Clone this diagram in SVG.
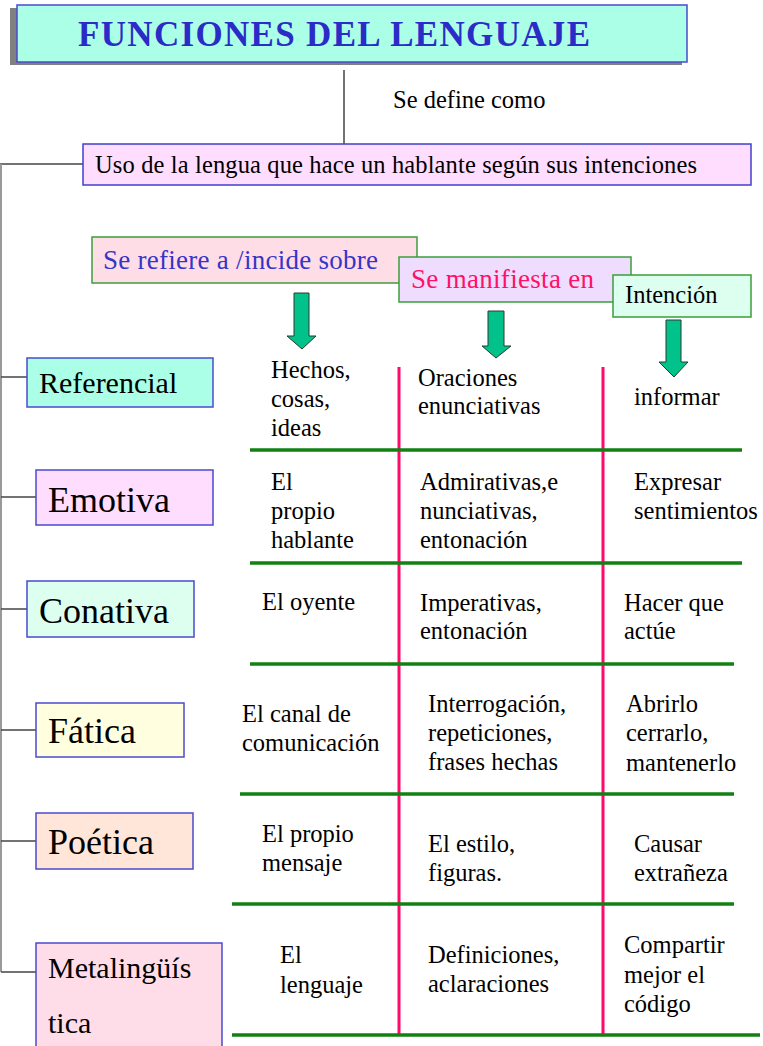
<svg xmlns="http://www.w3.org/2000/svg" width="763" height="1046" viewBox="0 0 763 1046">
<style>
.t{font-family:"Liberation Serif","Times New Roman",serif;fill:#000}
.cell{font-size:24.5px}
.lbl{stroke:#4a4ad0;stroke-width:1.5}
.hdr{stroke:#3d9d3d;stroke-width:1.5}
.conn{stroke:#444;stroke-width:1.5;fill:none}
.green{stroke:#128012;stroke-width:3.5}
.pink{stroke:#ff0a6a;stroke-width:3}
.arrow{fill:#00c28a;stroke:#2a3a2a;stroke-width:1}
</style>
<rect width="763" height="1046" fill="#fff"/>
<g id="connectors">
<line class="conn" x1="344" y1="70" x2="344" y2="144"/>
<line class="conn" x1="0" y1="164" x2="83" y2="164"/>
<line x1="1" y1="164" x2="1" y2="972" stroke="#999" stroke-width="2"/>
<line class="conn" x1="1" y1="377" x2="27" y2="377"/>
<line class="conn" x1="1" y1="497" x2="36" y2="497"/>
<line class="conn" x1="1" y1="609" x2="27" y2="609"/>
<line class="conn" x1="1" y1="730" x2="36" y2="730"/>
<line class="conn" x1="1" y1="841" x2="36" y2="841"/>
<line class="conn" x1="1" y1="972" x2="36" y2="972"/>
</g>
<g id="title">
<rect x="10" y="8" width="672" height="57" fill="#808080"/>
<rect x="17" y="5" width="670" height="57" fill="#aaffe6" stroke="#4a4ad0" stroke-width="1.5"/>
<text x="78" y="46" font-family="Liberation Serif,serif" font-weight="bold" font-size="35" fill="#2b2bc8" textLength="512" lengthAdjust="spacing">FUNCIONES DEL LENGUAJE</text>
</g>
<g id="define-label">
<text class="t" x="393" y="108" font-size="24.5">Se define como</text>
</g>
<g id="definition">
<rect x="83" y="144" width="668" height="41" fill="#ffddff" stroke="#4040cc" stroke-width="1.5"/>
<text class="t" x="95" y="173" font-size="24.5" textLength="602" lengthAdjust="spacing">Uso de la lengua que hace un hablante según sus intenciones</text>
</g>
<g id="hdr-refiere">
<rect class="hdr" x="92" y="237" width="325" height="46" fill="#ffdde6"/>
<text x="103" y="269" font-family="Liberation Serif,serif" font-size="27" fill="#3535c8" textLength="275" lengthAdjust="spacing">Se refiere a /incide sobre</text>
</g>
<g id="hdr-manifiesta">
<rect class="hdr" x="399" y="257" width="232" height="45" fill="#eeddff"/>
<text x="411" y="288" font-family="Liberation Serif,serif" font-size="27" fill="#ff1166" textLength="183" lengthAdjust="spacing">Se manifiesta en</text>
</g>
<g id="hdr-intencion">
<rect class="hdr" x="613" y="275" width="138" height="42" fill="#ddfff0"/>
<text class="t" x="625" y="303" font-size="24.5">Intención</text>
</g>
<g id="arrows">
<polygon class="arrow" points="294,293 309,293 309,336 316,336 302,349 287,336 294,336"/>
<polygon class="arrow" points="488,311 504,311 504,346 511,346 496,358 482,346 488,346"/>
<polygon class="arrow" points="666,320 681,320 681,362 688,362 674,377 659,362 666,362"/>
</g>
<g id="grid">
<line class="pink" x1="399" y1="367" x2="399" y2="1035"/>
<line class="pink" x1="603" y1="367" x2="603" y2="1035"/>
<line class="green" x1="250" y1="450" x2="742" y2="450"/>
<line class="green" x1="250" y1="563" x2="742" y2="563"/>
<line class="green" x1="250" y1="664" x2="734" y2="664"/>
<line class="green" x1="240" y1="794" x2="734" y2="794"/>
<line class="green" x1="232" y1="904" x2="734" y2="904"/>
<line class="green" x1="232" y1="1035" x2="760" y2="1035"/>
</g>
<g id="referencial">
<rect class="lbl" x="27" y="358" width="186" height="49" fill="#aaffe6"/>
<text class="t" x="39" y="393" font-size="30">Referencial</text>
</g>
<g id="emotiva">
<rect class="lbl" x="36" y="470" width="177" height="55" fill="#ffddff"/>
<text class="t" x="48" y="512" font-size="36">Emotiva</text>
</g>
<g id="conativa">
<rect class="lbl" x="27" y="581" width="167" height="56" fill="#ddfff0"/>
<text class="t" x="39" y="623" font-size="36">Conativa</text>
</g>
<g id="fatica">
<rect class="lbl" x="36" y="703" width="148" height="54" fill="#ffffe0"/>
<text class="t" x="48" y="743" font-size="36">Fática</text>
</g>
<g id="poetica">
<rect class="lbl" x="36" y="813" width="157" height="56" fill="#ffe6d8"/>
<text class="t" x="48" y="854" font-size="36">Poética</text>
</g>
<g id="metalinguistica">
<rect class="lbl" x="36" y="943" width="186" height="110" fill="#ffdde8"/>
<text class="t" x="48" y="978" font-size="30">Metalingüís</text>
<text class="t" x="48" y="1033" font-size="30">tica</text>
</g>
<g id="row-referencial" class="t cell">
<text x="271" y="378">Hechos,</text>
<text x="271" y="407">cosas,</text>
<text x="271" y="436">ideas</text>
<text x="418" y="386">Oraciones</text>
<text x="418" y="414">enunciativas</text>
<text x="634" y="405">informar</text>
</g>
<g id="row-emotiva" class="t cell">
<text x="271" y="490">El</text>
<text x="271" y="519">propio</text>
<text x="271" y="548">hablante</text>
<text x="420" y="490">Admirativas,e</text>
<text x="420" y="519">nunciativas,</text>
<text x="420" y="548">entonación</text>
<text x="634" y="490">Expresar</text>
<text x="634" y="519">sentimientos</text>
</g>
<g id="row-conativa" class="t cell">
<text x="262" y="610">El oyente</text>
<text x="420" y="611">Imperativas,</text>
<text x="420" y="639">entonación</text>
<text x="624" y="611">Hacer que</text>
<text x="624" y="639">actúe</text>
</g>
<g id="row-fatica" class="t cell">
<text x="242" y="722">El canal de</text>
<text x="242" y="751">comunicación</text>
<text x="428" y="712">Interrogación,</text>
<text x="428" y="741">repeticiones,</text>
<text x="428" y="770">frases hechas</text>
<text x="626" y="712">Abrirlo</text>
<text x="626" y="741">cerrarlo,</text>
<text x="626" y="771">mantenerlo</text>
</g>
<g id="row-poetica" class="t cell">
<text x="262" y="842">El propio</text>
<text x="262" y="871">mensaje</text>
<text x="428" y="852">El estilo,</text>
<text x="428" y="881">figuras.</text>
<text x="634" y="852">Causar</text>
<text x="634" y="881">extrañeza</text>
</g>
<g id="row-metalinguistica" class="t cell">
<text x="280" y="963">El</text>
<text x="280" y="993">lenguaje</text>
<text x="428" y="963">Definiciones,</text>
<text x="428" y="992">aclaraciones</text>
<text x="624" y="953">Compartir</text>
<text x="624" y="983">mejor el</text>
<text x="624" y="1012">código</text>
</g>
</svg>
